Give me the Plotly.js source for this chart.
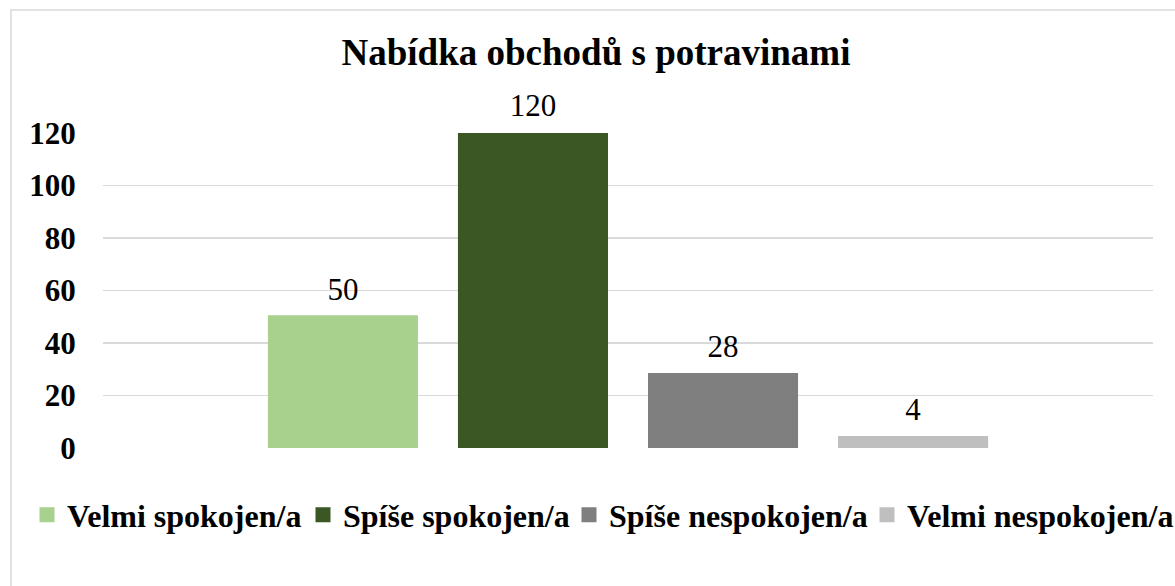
<!DOCTYPE html>
<html>
<head>
<meta charset="utf-8">
<script src="https://cdn.plot.ly/plotly-3.0.1.min.js"></script>
<style>html,body{margin:0;padding:0;background:#fff;}#chart{width:1175px;height:586px;}</style>
</head>
<body>
<div id="chart"></div>
<script>
const categories = [''];
const seriesNames = ['Velmi spokojen/a', 'Spíše spokojen/a', 'Spíše nespokojen/a', 'Velmi nespokojen/a'];
const seriesValues = [50, 120, 28, 4];
const seriesColors = ['#A9D18E', '#3A5724', '#7F7F7F', '#BFBFBF'];
const legendWidths = [231, 221, 253, null];
const yTicks = [0, 20, 40, 60, 80, 100, 120];
const titleText = 'Nabídka obchodů s potravinami';

const FONT = 'Liberation Serif, Times New Roman, serif';
const BARGAP = 0.276;

const bars = seriesNames.map((name, i) => {
  const t = {
    type: 'bar',
    name: name,
    x: categories,
    y: [seriesValues[i]],
    marker: {color: seriesColors[i], line: {width: 3, color: seriesColors[i]}},
    hoverinfo: 'name+y'
  };
  if (legendWidths[i]) t.legendwidth = legendWidths[i];
  return t;
});

// data labels: invisible scatter points grouped like the bars
const labels = seriesNames.map((name, i) => ({
  type: 'scatter',
  mode: 'markers+text',
  name: name,
  showlegend: false,
  x: categories,
  y: [seriesValues[i]],
  text: [String(seriesValues[i])],
  textposition: 'top center',
  textfont: {family: FONT, size: 31, color: '#000'},
  marker: {size: 13.6, opacity: 0, color: seriesColors[i]},
  cliponaxis: false,
  hoverinfo: 'skip'
}));

const L = 103, R = 1153, T = 133, B = 448;
const W = R - L, H = B - T;

const layout = {
  width: 1175, height: 586,
  margin: {l: L, r: 1175 - R, t: T, b: 586 - B, pad: 0, autoexpand: false},
  paper_bgcolor: '#fff', plot_bgcolor: '#fff',
  font: {family: FONT, color: '#000'},
  title: {
    text: '<b>' + titleText + '</b>',
    font: {family: FONT, size: 37, color: '#000'},
    x: 596 / 1175, xanchor: 'center', xref: 'container',
    y: 1 - 52 / 586, yanchor: 'middle', yref: 'container'
  },
  barmode: 'group',
  bargap: BARGAP,
  bargroupgap: 0.2263,
  scattermode: 'group',
  scattergap: BARGAP,
  showlegend: true,
  legend: {
    orientation: 'h',
    xref: 'paper', yref: 'paper',
    x: (27 - L) / W, xanchor: 'left',
    y: (B - 515) / H, yanchor: 'middle',
    font: {family: FONT, size: 32, color: '#000', weight: 'bold'},
    traceorder: 'normal',
    itemclick: false,
    bgcolor: 'rgba(0,0,0,0)'
  },
  xaxis: {
    type: 'category',
    showticklabels: false,
    showgrid: false, zeroline: false, showline: false, ticks: ''
  },
  yaxis: {
    range: [0, 120],
    tickvals: yTicks,
    ticktext: yTicks.map(v => '<b>' + v + '</b>'),
    tickfont: {family: FONT, size: 31, color: '#000'},
    showgrid: true, gridcolor: '#D9D9D9', gridwidth: 1.3,
    zeroline: false, showline: false,
    ticks: 'outside', ticklen: 20, tickcolor: 'rgba(0,0,0,0)'
  },
  shapes: [{
    type: 'rect', xref: 'paper', yref: 'paper',
    x0: (11 - L) / W, x1: (1250 - L) / W,
    y0: (B - 650) / H, y1: (B - 10) / H,
    line: {color: '#D9D9D9', width: 1.5}, fillcolor: 'rgba(0,0,0,0)', layer: 'below'
  }]
};

Plotly.newPlot('chart', bars.concat(labels), layout, {displayModeBar: false, staticPlot: true});
</script>
</body>
</html>
